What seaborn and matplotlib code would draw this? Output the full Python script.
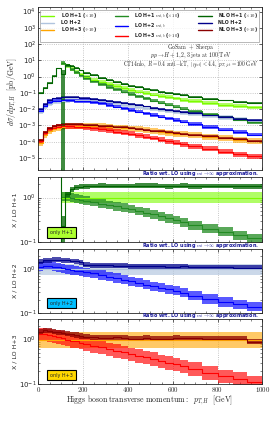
import numpy as np
import pandas as pd
import matplotlib
matplotlib.use("Agg")
import matplotlib.pyplot as plt
from matplotlib.lines import Line2D
from matplotlib.ticker import FixedLocator, FuncFormatter, NullLocator, NullFormatter, LogFormatterMathtext
import seaborn as sns

sns.set_style("ticks")
plt.rcParams.update({
    "font.family": ["DejaVu Sans"],
    "mathtext.fontset": "cm",
    "axes.linewidth": 0.6,
    "xtick.direction": "in", "ytick.direction": "in",
    "xtick.top": True, "ytick.right": True,
    "xtick.major.size": 2.2, "ytick.major.size": 2.2,
    "xtick.minor.size": 1.2, "ytick.minor.size": 1.2,
    "xtick.major.width": 0.5, "ytick.major.width": 0.5,
    "xtick.minor.width": 0.4, "ytick.minor.width": 0.4,
    "xtick.labelsize": 5, "ytick.labelsize": 5,
})

nan = np.nan
# ---------------- data ----------------
bin_edges = [0, 20, 40, 60, 80, 100, 120, 140, 160, 180, 200,
             233, 267, 300, 333, 367, 400, 433, 467, 500, 533, 567, 600, 633, 667,
             733, 800, 867, 933, 1000]

lo_h1 = [nan, nan, nan, nan, nan,
         6.5, 4.6, 2.8, 1.95, 1.37, 0.97, 0.66, 0.46, 0.34, 0.257, 0.197, 0.153, 0.12,
         0.098, 0.079, 0.066, 0.054, 0.045, 0.038, 0.031, 0.0236, 0.0187, 0.0155, 0.0128]
mtb_h1 = [nan, nan, nan, nan, nan,
          6.8, 4.8, 2.8, 1.85, 1.23, 0.82, 0.52, 0.336, 0.231, 0.162, 0.116, 0.084, 0.06,
          0.045, 0.033, 0.025, 0.0184, 0.014, 0.0106, 0.0074, 0.0047, 0.0032, 0.0022, 0.00154]
nlo_h1 = [0.1, 0.2, 0.4, 1.1, 3.2, 1.5, 5.5, 4.3, 3.3, 2.4, 1.75, 1.2, 0.85, 0.62, 0.47,
          0.36, 0.28, 0.22, 0.18, 0.145, 0.12, 0.098, 0.082, 0.07, 0.056, 0.043, 0.034, 0.028, 0.023]

lo_h2 = [0.0067, 0.0138, 0.022, 0.027, 0.030, 0.033, 0.034, 0.035, 0.035, 0.035, 0.038, 0.034,
         0.030, 0.026, 0.0225, 0.019, 0.017, 0.0144, 0.0123, 0.0105, 0.009, 0.0078, 0.0068,
         0.0058, 0.0049, 0.0038, 0.003, 0.0024, 0.00194]
mtb_h2 = [0.0077, 0.0166, 0.0264, 0.031, 0.033, 0.0347, 0.034, 0.034, 0.0326, 0.0315, 0.0323,
          0.0272, 0.0222, 0.0177, 0.0142, 0.011, 0.009, 0.0071, 0.0055, 0.0043, 0.0034, 0.0027,
          0.0022, 0.0017, 0.00123, 0.0008, 0.00054, 0.00038, 0.00027]
nlo_h2 = [0.01, 0.022, 0.035, 0.045, 0.05, 0.053, 0.054, 0.054, 0.053, 0.051, 0.048, 0.042,
          0.037, 0.032, 0.027, 0.023, 0.02, 0.017, 0.0145, 0.0123, 0.0105, 0.009, 0.0078,
          0.0067, 0.0055, 0.0042, 0.0033, 0.0026, 0.0021]

lo_h3 = [8e-5, 2.5e-4, 4.5e-4, 6e-4, 7.2e-4, 8.2e-4, 8.9e-4, 9.2e-4, 9.4e-4, 9.6e-4, 9.6e-4,
         9.4e-4, 8.9e-4, 8.2e-4, 7.4e-4, 6.8e-4, 6.5e-4, 5.8e-4, 5.0e-4, 4.6e-4, 4.1e-4,
         3.6e-4, 3.15e-4, 2.8e-4, 2.43e-4, 2.0e-4, 1.62e-4, 1.33e-4, 1.17e-4]
mtb_h3 = [1.04e-4, 3.25e-4, 5.6e-4, 7.2e-4, 8.3e-4, 9.0e-4, 8.9e-4, 8.7e-4, 8.5e-4, 8.2e-4,
          7.5e-4, 6.8e-4, 5.9e-4, 4.9e-4, 4.1e-4, 3.5e-4, 3.05e-4, 2.5e-4, 2.0e-4, 1.7e-4,
          1.35e-4, 1.08e-4, 8.8e-5, 7.0e-5, 5.3e-5, 3.6e-5, 2.4e-5, 1.73e-5, 1.29e-5]
nlo_h3 = [1.2e-4, 4e-4, 7e-4, 9e-4, 1.05e-3, 1.15e-3, 1.2e-3, 1.2e-3, 1.18e-3, 1.15e-3, 1.1e-3,
          1.05e-3, 9.8e-4, 9e-4, 8.3e-4, 7.5e-4, 6.8e-4, 6.1e-4, 5.4e-4, 4.8e-4, 4.3e-4,
          3.8e-4, 3.4e-4, 3.0e-4, 2.6e-4, 2.1e-4, 1.7e-4, 1.4e-4, 1.05e-4]

# relative scale-uncertainty bands (down, up)
band_lo_h1, band_mtb_h1, band_nlo_h1 = (0.76, 1.30), (0.80, 1.25), (0.88, 1.13)
band_lo_h2, band_mtb_h2, band_nlo_h2 = (0.73, 1.35), (0.78, 1.28), (0.88, 1.14)
band_lo_h3, band_mtb_h3, band_nlo_h3 = (0.65, 1.50), (0.70, 1.40), (0.88, 1.15)
nlo_h1_threshold_bin = 5            # 100-120 GeV bin
nlo_h1_threshold_band = (1e-8, 2.5)  # absolute band in that bin

labels = ["LO H+1 ($\\times 10$)", "LO H+2", "LO H+3 ($\\div 10$)",
          "LO H+1 $m_{t,b}$ ($\\times 10$)", "LO H+2 $m_{t,b}$", "LO H+3 $m_{t,b}$ ($\\div 10$)",
          "NLO H+1 ($\\times 10$)", "NLO H+2", "NLO H+3 ($\\div 10$)"]
colors = ["#7CFC00", "#B0C4DE", "#FFA500",
          "#228B22", "#0000FF", "#FF0000",
          "#006400", "#00008B", "#8B0000"]
alphas = [0.6, 0.65, 0.6, 0.75, 0.65, 0.65, 0.75, 0.7, 0.75]
ratio_title = "Ratio wrt. LO using $m_t \\to \\infty$ approximation."
xticks = [0, 200, 400, 600, 800, 1000]

# ---------------- helpers ----------------
edges = np.asarray(bin_edges, float)


def ext(v):
    v = np.asarray(v, float)
    return np.append(v, v[-1])


def bands_for(vals, band, special=None):
    v = np.asarray(vals, float)
    lo, hi = v * band[0], v * band[1]
    if special is not None:
        idx, (a, b) = special
        lo[idx], hi[idx] = a, b
    return lo, hi


series = {
    labels[0]: (lo_h1, bands_for(lo_h1, band_lo_h1)),
    labels[1]: (lo_h2, bands_for(lo_h2, band_lo_h2)),
    labels[2]: (lo_h3, bands_for(lo_h3, band_lo_h3)),
    labels[3]: (mtb_h1, bands_for(mtb_h1, band_mtb_h1)),
    labels[4]: (mtb_h2, bands_for(mtb_h2, band_mtb_h2)),
    labels[5]: (mtb_h3, bands_for(mtb_h3, band_mtb_h3)),
    labels[6]: (nlo_h1, bands_for(nlo_h1, band_nlo_h1, (nlo_h1_threshold_bin, nlo_h1_threshold_band))),
    labels[7]: (nlo_h2, bands_for(nlo_h2, band_nlo_h2)),
    labels[8]: (nlo_h3, bands_for(nlo_h3, band_nlo_h3)),
}
palette = dict(zip(labels, colors))
alpha_of = dict(zip(labels, alphas))


def draw(ax, names, divisor=None):
    frames = []
    for name in names:
        vals, (lo, hi) = series[name]
        vals = np.asarray(vals, float)
        if divisor is not None:
            d = np.asarray(divisor, float)
            vals, lo, hi = vals / d, lo / d, hi / d
        ax.fill_between(edges, ext(lo), ext(hi), step="post", color=palette[name],
                        alpha=alpha_of[name], lw=0)
        frames.append(pd.DataFrame({"pT": edges, "value": ext(vals), "series": name}))
    df = pd.concat(frames, ignore_index=True)
    sns.lineplot(data=df, x="pT", y="value", hue="series", hue_order=names,
                 palette=palette, drawstyle="steps-post", estimator=None,
                 legend=False, lw=0.8, ax=ax)
    ax.set_xlabel("")
    ax.set_ylabel("")


# ---------------- figure ----------------
W, H = 272, 423
fig = plt.figure(figsize=(W / 100, H / 100), dpi=100)


def axes_px(top, bottom, left=38.3, right=262.3):
    return fig.add_axes([left / W, 1 - bottom / H, (right - left) / W, (bottom - top) / H])


ax0 = axes_px(7, 170)
ax1 = axes_px(177, 242)
ax2 = axes_px(249, 313)
ax3 = axes_px(319, 384)

for ax in (ax0, ax1, ax2, ax3):
    ax.set_yscale("log")
    ax.set_xlim(0, 1000)

ax0.set_ylim(1.8e-6, 1.9e4)
draw(ax0, [labels[1], labels[2], labels[0], labels[4], labels[5], labels[3],
           labels[7], labels[8], labels[6]])

draw(ax1, [labels[0], labels[3], labels[6]], divisor=lo_h1)
draw(ax2, [labels[1], labels[4], labels[7]], divisor=lo_h2)
draw(ax3, [labels[2], labels[5], labels[8]], divisor=lo_h3)
# NLO/LO for H+1 diverges below the LO threshold
first_lo_bin = int(np.argmax(~np.isnan(np.asarray(lo_h1, float))))
ax1.axvline(edges[first_lo_bin], color=colors[6], lw=0.8)

xfmt = FuncFormatter(lambda v, p: f"${v:.0f}$")
for ax in (ax0, ax1, ax2, ax3):
    ax.xaxis.set_major_locator(FixedLocator(xticks))
    ax.xaxis.set_minor_locator(FixedLocator(np.arange(0, 1001, 50)))
    ax.xaxis.set_major_formatter(xfmt)
    ax.grid(True, which="major", ls=":", color="#b5b5b5", lw=0.6)
    ax.set_axisbelow(True)
    ax.tick_params(which="both", direction="in", top=True, right=True, pad=1.5)
    ax.set_xlim(0, 1000)
for ax in (ax0, ax1, ax2):
    ax.tick_params(labelbottom=False)
ax3.tick_params(axis="x", pad=1.0)

ax0.yaxis.set_major_locator(FixedLocator([10.0 ** k for k in range(-5, 5)]))
ax0.yaxis.set_minor_locator(NullLocator())
ax0.yaxis.set_major_formatter(LogFormatterMathtext())
for ax in (ax1, ax2, ax3):
    ax.set_ylim(0.1, 2.9)
    ax.yaxis.set_major_locator(FixedLocator([0.1, 1.0]))
    ax.yaxis.set_minor_locator(FixedLocator([0.2, 0.3, 0.4, 0.5, 0.6, 0.7, 0.8, 0.9, 2.0]))
    ax.yaxis.set_major_formatter(LogFormatterMathtext())
    ax.yaxis.set_minor_formatter(NullFormatter())

# legend
handles = [Line2D([], [], color=c, lw=1.0) for c in colors]
leg = ax0.legend(handles, labels, ncol=3, loc="upper left",
                 bbox_to_anchor=(0.008, 0.982, 0.977, 0.0), mode="expand",
                 prop={"size": 3.4, "weight": "bold"}, frameon=True, fancybox=False,
                 edgecolor="#999999", handlelength=2.8, handletextpad=1.3,
                 labelspacing=0.02, borderpad=0.25, columnspacing=0.6, borderaxespad=0)
leg.get_frame().set_linewidth(0.6)

# annotations in main panel
ax0.text(0.68, 0.757, "$\\mathrm{GoSam\\ +\\ Sherpa}$", transform=ax0.transAxes,
         ha="center", va="center", fontsize=4.2)
ax0.text(0.68, 0.702, "$pp \\to H+1,2,3\\ \\mathrm{jets\\ at\\ 100\\ TeV}$",
         transform=ax0.transAxes, ha="center", va="center", fontsize=4.2)
ax0.text(0.985, 0.645,
         "$\\mathrm{CT14nlo},\\ R=0.4\\ \\mathrm{anti\\!-\\!kT},\\ |\\eta_{jet}|<4.4,\\ p_{T,jet}=100\\ \\mathrm{GeV}$",
         transform=ax0.transAxes, ha="right", va="center", fontsize=3.9)

for ypx in (173.5, 245.5, 316):
    fig.text(259 / W, 1 - ypx / H, ratio_title, ha="right", va="center",
             fontsize=3.5, color="#1a1a9a", fontweight="bold")

box_specs = [(ax1, "only H+1", "#ADFF2F", 0.146), (ax2, "only H+2", "#00BFFF", 0.156),
             (ax3, "only H+3", "#FFD700", 0.138)]
for ax, txt, bg, yy in box_specs:
    ax.text(0.104, yy, txt, transform=ax.transAxes, ha="center", va="center", fontsize=3.5,
            bbox=dict(boxstyle="square,pad=0.55", fc=bg, ec="black", lw=0.8))

# axis labels
fig.text(12.5 / W, 1 - 92 / H, "$d\\sigma/dp_{T,H}\\ \\ [\\mathrm{pb/GeV}]$",
         rotation=90, ha="center", va="center", fontsize=5.6)
for ax, n in ((ax1, 1), (ax2, 2), (ax3, 3)):
    pos = ax.get_position()
    fig.text(15 / W, pos.y0 + pos.height / 2, f"X / LO H+{n}", rotation=90,
             ha="center", va="center", fontsize=4.5)
fig.text(150 / W, 1 - 400.5 / H,
         "$\\mathrm{Higgs\\ boson\\ transverse\\ momentum:}\\ \\ p_{T,H}\\ \\ [\\mathrm{GeV}]$",
         ha="center", va="center", fontsize=5.6)

fig.savefig("out.png", dpi=100)
